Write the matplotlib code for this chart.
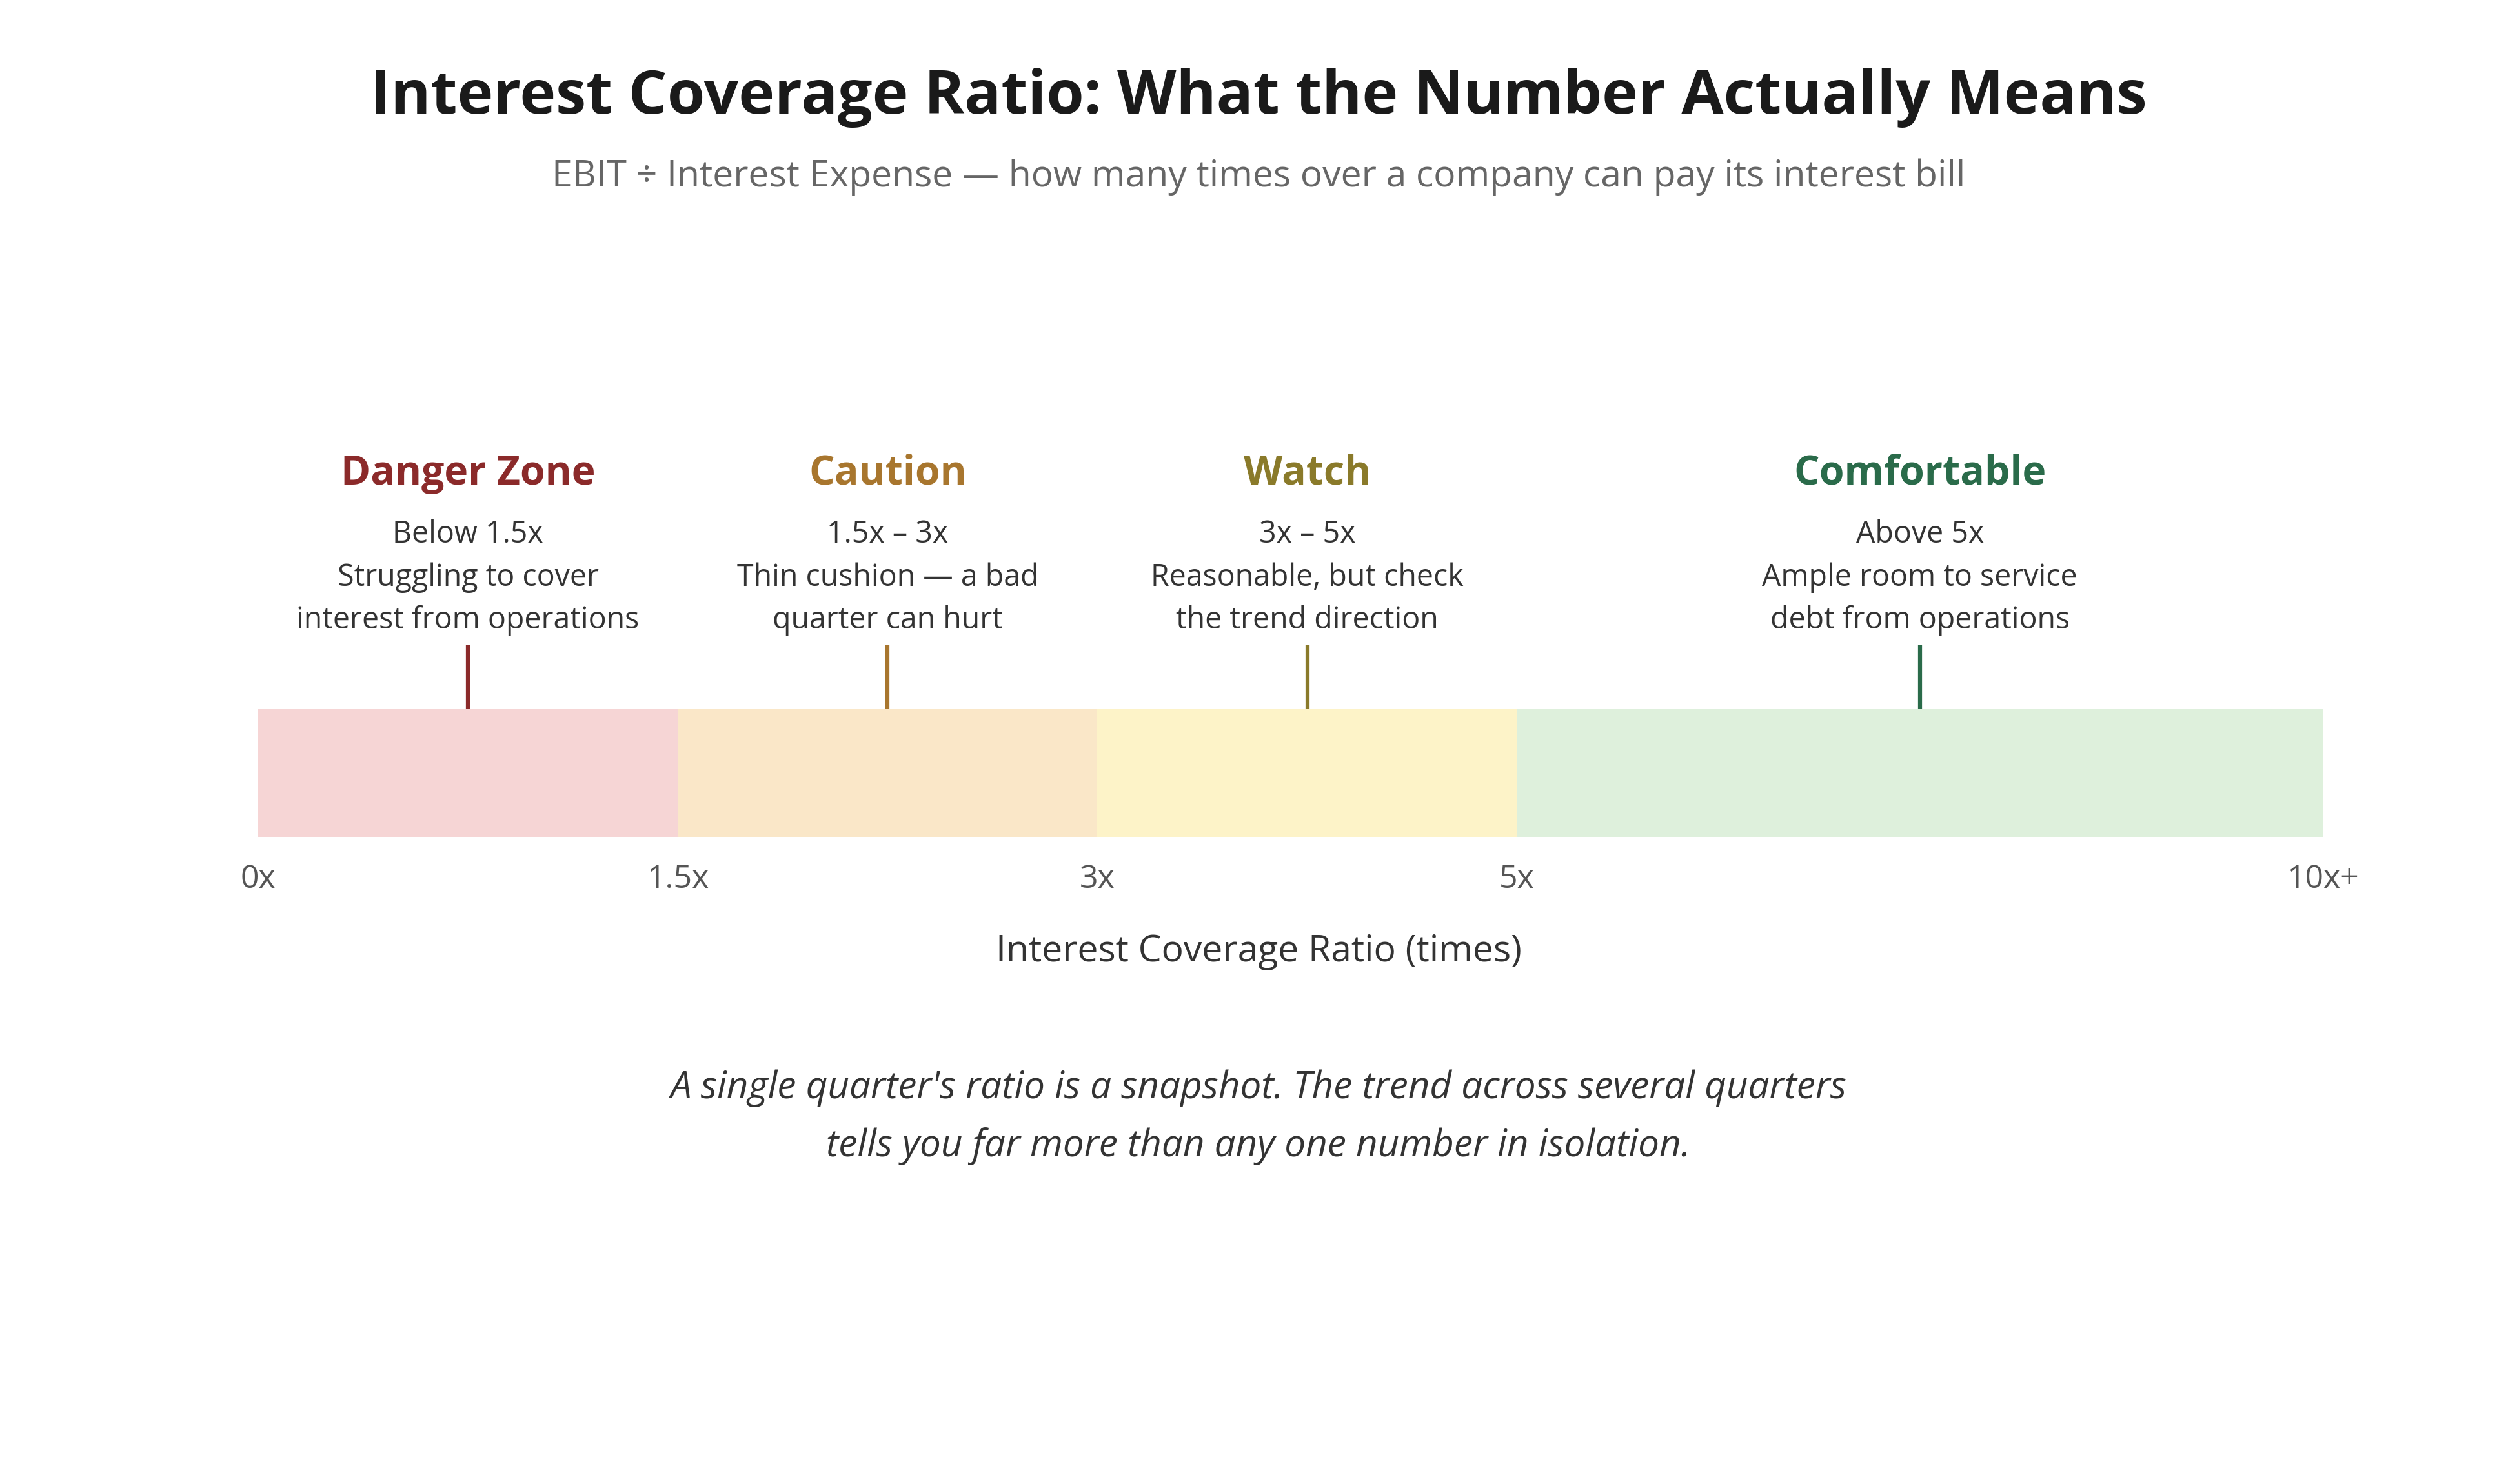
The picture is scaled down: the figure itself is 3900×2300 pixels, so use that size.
import numpy as np
import matplotlib
matplotlib.use("Agg")
import matplotlib.pyplot as plt

plt.rcParams['font.family'] = ['Open Sans', 'DejaVu Sans']

# zone data
zones = ['Danger Zone', 'Caution', 'Watch', 'Comfortable']
zone_lo = [0, 1.5, 3, 5]
zone_hi = [1.5, 3, 5, 10]
zone_range = ['Below 1.5x', '1.5x \u2013 3x', '3x \u2013 5x', 'Above 5x']
zone_desc = ['Struggling to cover\ninterest from operations',
             'Thin cushion \u2014 a bad\nquarter can hurt',
             'Reasonable, but check\nthe trend direction',
             'Ample room to service\ndebt from operations']
band_colors = ['#f6d5d5', '#fae7c8', '#fdf3c8', '#def0dc']
text_colors = ['#8b2a2a', '#a8762e', '#8a7a2a', '#2a6b4a']

tick_vals = [0, 1.5, 3, 5, 10]
tick_labels = ['0x', '1.5x', '3x', '5x', '10x+']

# piecewise scale: equal width for first three zones, wider for last
breaks = [0, 1.5, 3, 5, 10]
spots = [0, 1, 2, 3, 4.92]

def fwd(x):
    return np.interp(x, breaks, spots)

def inv(p):
    return np.interp(p, spots, breaks)

fig = plt.figure(figsize=(39, 23), dpi=100)
ax = fig.add_axes([400 / 3900, 0, 3199 / 3900, 1])
ax.set_xscale('function', functions=(fwd, inv))
ax.set_xlim(0, 10)
ax.set_ylim(2300, 0)
ax.axis('off')

widths = np.array(zone_hi) - np.array(zone_lo)
ax.bar(zone_lo, 199, width=widths, bottom=1099, align='edge',
       color=band_colors, linewidth=0)

mids = [(a + b) / 2 for a, b in zip(zone_lo, zone_hi)]
ax.vlines(mids, 1000, 1099, colors=text_colors, linewidth=4.5)

for m, name, rng, desc, c in zip(mids, zones, zone_range, zone_desc, text_colors):
    ax.text(m, 734, name, ha='center', va='center', fontsize=45,
            fontweight='bold', color=c)
    ax.text(m, 828, rng, ha='center', va='center', fontsize=33.5, color='#333333')
    ax.text(m, 928, desc, ha='center', va='center', fontsize=33.5,
            color='#333333', linespacing=1.5)

for v, lab in zip(tick_vals, tick_labels):
    ax.text(v, 1363, lab, ha='center', va='center', fontsize=36, color='#555555')

fig.text(0.5, 1 - 1476 / 2300, 'Interest Coverage Ratio (times)', ha='center',
         va='center', fontsize=41, color='#333333')

fig.text(0.5, 1 - 151 / 2300, 'Interest Coverage Ratio: What the Number Actually Means',
         ha='center', va='center', fontsize=68, fontweight='bold', color='#1a1a1a')
fig.text(0.5, 1 - 274 / 2300,
         'EBIT \u00f7 Interest Expense \u2014 how many times over a company can pay its interest bill',
         ha='center', va='center', fontsize=41, color='#666666')

fig.text(0.5, 1 - 1732 / 2300,
         "A single quarter's ratio is a snapshot. The trend across several quarters\n"
         "tells you far more than any one number in isolation.",
         ha='center', va='center', fontsize=42, style='italic', color='#333333',
         linespacing=1.68)

fig.savefig('out.png', dpi=100, facecolor='white')
